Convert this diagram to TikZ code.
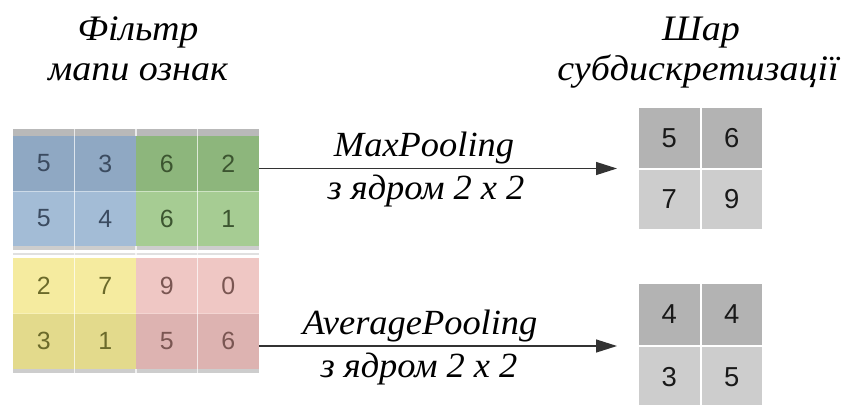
\documentclass[tikz,border=0pt]{standalone}
\usepackage{fontspec}
\setmainfont{Liberation Serif}
\setsansfont{Liberation Sans}
\newfontfamily\headserif[FakeStretch=1.06]{Liberation Serif}
\newfontfamily\labelserif[FakeStretch=1.03]{Liberation Serif}
\usetikzlibrary{arrows.meta}

\definecolor{blueTop}{HTML}{8FA8C3}
\definecolor{blueBot}{HTML}{A3BCD6}
\definecolor{blueTxt}{HTML}{3B4B60}
\definecolor{greenTop}{HTML}{8DB67C}
\definecolor{greenBot}{HTML}{A6CC93}
\definecolor{greenTxt}{HTML}{3C5530}
\definecolor{yellowTop}{HTML}{F5EB9F}
\definecolor{yellowBot}{HTML}{E3DA8C}
\definecolor{yellowTxt}{HTML}{6B6A2A}
\definecolor{pinkTop}{HTML}{EFC7C4}
\definecolor{pinkBot}{HTML}{DDB3B1}
\definecolor{pinkTxt}{HTML}{7A5652}
\definecolor{stripGray}{HTML}{B9B9B9}
\definecolor{shadowGray}{HTML}{CDCDCD}
\definecolor{poolTop}{HTML}{B3B3B3}
\definecolor{poolBot}{HTML}{CDCDCD}
\definecolor{arrowGray}{HTML}{333333}

\tikzset{
  mapcell/.style={rectangle, inner sep=0pt, minimum width=61.5bp,
    font=\sffamily\fontsize{25}{25}\selectfont},
  poolcell/.style={rectangle, inner sep=0pt, minimum width=62.5bp,
    draw=white, line width=2bp, text=black!90,
    font=\sffamily\fontsize{27.5}{27.5}\selectfont},
  heading/.style={font=\headserif\itshape\fontsize{36}{36}\selectfont, inner sep=0pt},
  arrowlabel/.style={font=\labelserif\itshape\fontsize{35.5}{35.5}\selectfont, inner sep=0pt, anchor=base},
  poolarrow/.style={draw=arrowGray, line width=1.3bp,
    -{Triangle[length=21bp,width=13bp]}},
  divider/.style={white, line width=1.2bp, opacity=0.7}
}

\begin{document}
\begin{tikzpicture}[x=1bp,y=-1bp]
\useasboundingbox[fill=white] (0,0) rectangle (847,404);

% headings
\node[heading, anchor=base] (h1) at (138,40) {Фільтр};
\node[heading, anchor=base] (h2) at (138,80) {мапи ознак};
\node[heading, anchor=base] (h3) at (701,40) {Шар};
\node[heading, anchor=base] (h4) at (698,80) {субдискретизації};

% strips above and below the feature map blocks
\fill[stripGray] (13,129) rectangle (259,136);
\fill[shadowGray] (13,246) rectangle (259,250);
\fill[black!12] (13,253) rectangle (259,254.5);
\fill[shadowGray] (13,369) rectangle (259,373);

% feature map: top block
\node[mapcell, minimum height=55bp, fill=blueTop,  text=blueTxt]  (m11) at (43.75,163.5) {5};
\node[mapcell, minimum height=55bp, fill=blueTop,  text=blueTxt]  (m12) at (105.25,163.5) {3};
\node[mapcell, minimum height=55bp, fill=greenTop, text=greenTxt] (m13) at (166.75,163.5) {6};
\node[mapcell, minimum height=55bp, fill=greenTop, text=greenTxt] (m14) at (228.25,163.5) {2};
\node[mapcell, minimum height=55bp, fill=blueBot,  text=blueTxt]  (m21) at (43.75,218.5) {5};
\node[mapcell, minimum height=55bp, fill=blueBot,  text=blueTxt]  (m22) at (105.25,218.5) {4};
\node[mapcell, minimum height=55bp, fill=greenBot, text=greenTxt] (m23) at (166.75,218.5) {6};
\node[mapcell, minimum height=55bp, fill=greenBot, text=greenTxt] (m24) at (228.25,218.5) {1};
% feature map: bottom block
\node[mapcell, minimum height=55.5bp, fill=yellowTop, text=yellowTxt] (m31) at (43.75,285.75) {2};
\node[mapcell, minimum height=55.5bp, fill=yellowTop, text=yellowTxt] (m32) at (105.25,285.75) {7};
\node[mapcell, minimum height=55.5bp, fill=pinkTop,   text=pinkTxt]   (m33) at (166.75,285.75) {9};
\node[mapcell, minimum height=55.5bp, fill=pinkTop,   text=pinkTxt]   (m34) at (228.25,285.75) {0};
\node[mapcell, minimum height=55.5bp, fill=yellowBot, text=yellowTxt] (m41) at (43.75,341.25) {3};
\node[mapcell, minimum height=55.5bp, fill=yellowBot, text=yellowTxt] (m42) at (105.25,341.25) {1};
\node[mapcell, minimum height=55.5bp, fill=pinkBot,   text=pinkTxt]   (m43) at (166.75,341.25) {5};
\node[mapcell, minimum height=55.5bp, fill=pinkBot,   text=pinkTxt]   (m44) at (228.25,341.25) {6};

% light cell dividers
\draw[divider] (74.5,129) -- (74.5,373);
\draw[divider] (197.5,129) -- (197.5,373);
\draw[divider] (136,129) -- (136,136);
\draw[divider] (136,246) -- (136,258);
\draw[divider] (136,369) -- (136,373);
\draw[white, line width=1bp, opacity=0.45] (13,191) -- (259,191);
\draw[white, line width=1bp, opacity=0.25] (13,313.5) -- (259,313.5);

% pooled outputs
\node[poolcell, minimum height=61.5bp, fill=poolTop] (p11) at (669.25,137.75) {5};
\node[poolcell, minimum height=61.5bp, fill=poolTop] (p12) at (731.75,137.75) {6};
\node[poolcell, minimum height=61.5bp, fill=poolBot] (p21) at (669.25,199.25) {7};
\node[poolcell, minimum height=61.5bp, fill=poolBot] (p22) at (731.75,199.25) {9};
\node[poolcell, minimum height=63bp, fill=poolTop] (q11) at (669.25,314.5) {4};
\node[poolcell, minimum height=63bp, fill=poolTop] (q12) at (731.75,314.5) {4};
\node[poolcell, minimum height=63bp, fill=poolBot] (q21) at (669.25,377.5) {3};
\node[poolcell, minimum height=63bp, fill=poolBot] (q22) at (731.75,377.5) {5};

% arrows
\coordinate (maxStart) at (259,168.5);
\coordinate (maxEnd) at (617,168.5);
\coordinate (avgStart) at (259,346);
\coordinate (avgEnd) at (617,346);
\draw[poolarrow] (maxStart) -- (maxEnd);
\draw[poolarrow] (avgStart) -- (avgEnd);

\node[arrowlabel] (l1) at (424,156) {MaxPooling};
\node[arrowlabel] (l2) at (426,199) {з ядром 2 x 2};
\node[arrowlabel] (l3) at (420,334) {AveragePooling};
\node[arrowlabel] (l4) at (419,377) {з ядром 2 x 2};
\end{tikzpicture}
\end{document}
